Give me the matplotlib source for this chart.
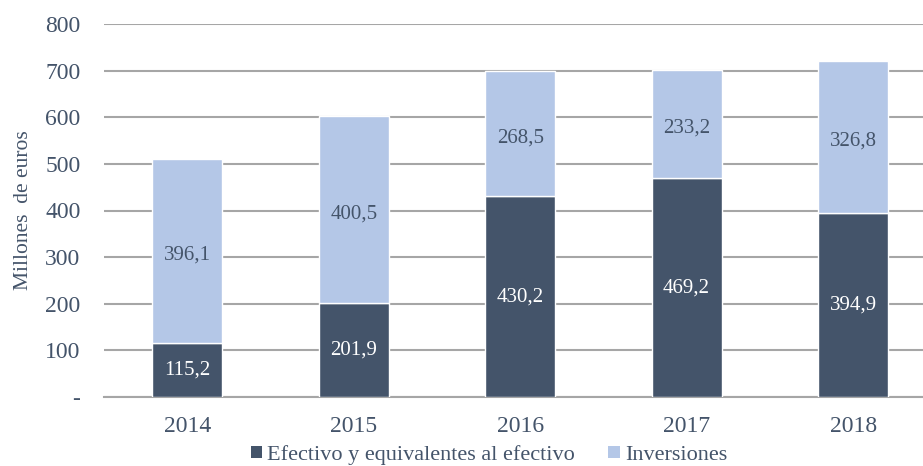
import matplotlib
matplotlib.use("Agg")
import matplotlib.pyplot as plt
from matplotlib.ticker import FixedLocator, FixedFormatter

years = ["2014", "2015", "2016", "2017", "2018"]
efectivo = [115.2, 201.9, 430.2, 469.2, 394.9]
inversiones = [396.1, 400.5, 268.5, 233.2, 326.8]
series_names = ["Efectivo y equivalentes al efectivo", "Inversiones"]
yticks = [0, 100, 200, 300, 400, 500, 600, 700, 800]
ytick_labels = ["-", "100", "200", "300", "400", "500", "600", "700", "800"]

dark = "#44546A"
light = "#B4C7E7"
txt = "#44546A"
grid = "#A6A6A6"

plt.rcParams['font.family'] = ['Liberation Serif', 'DejaVu Serif']

fig = plt.figure(figsize=(9.23, 4.66), dpi=100)
ax = fig.add_axes([104/923, 69/466, 819/923, 373/466])

x = list(range(len(years)))
w = 0.42
b1 = ax.bar(x, efectivo, width=w, color=dark, edgecolor="white", linewidth=1, label=series_names[0], zorder=3)
b2 = ax.bar(x, inversiones, width=w, bottom=efectivo, color=light, edgecolor="white", linewidth=1, label=series_names[1], zorder=3)

def fmt(v):
    return f"{v:.1f}".replace(".", ",")

for i in x:
    ax.text(i, efectivo[i] / 2, fmt(efectivo[i]), ha="center", va="center", color="white", fontsize=15, zorder=4)
    ax.text(i, efectivo[i] + inversiones[i] / 2 - 9, fmt(inversiones[i]), ha="center", va="center", color=txt, fontsize=15, zorder=4)

ax.set_xlim(-0.5, 4.42)
ax.set_ylim(0, 800)
ax.yaxis.set_major_locator(FixedLocator(yticks))
ax.yaxis.set_major_formatter(FixedFormatter(ytick_labels))
ax.set_xticks(x)
ax.set_xticklabels(years)
ax.tick_params(axis="both", length=0, labelsize=17, colors=txt)
ax.tick_params(axis="y", pad=17)
ax.tick_params(axis="x", pad=14)
ax.grid(axis="y", color=grid, linewidth=1.5, zorder=0)
for s in ["top", "right", "left"]:
    ax.spines[s].set_visible(False)
ax.spines["bottom"].set_color(grid)
ax.spines["bottom"].set_linewidth(1.5)

ax.set_ylabel("Millones  de euros", fontsize=15.5, color=txt)
ax.yaxis.set_label_coords(-71/819, 0.5)

leg = fig.legend(handles=[b1, b2], labels=series_names, loc="center", bbox_to_anchor=(489/923, 1 - 455/466),
                 ncol=2, frameon=False, fontsize=16, handlelength=0.5, handleheight=0.5,
                 handletextpad=0.25, columnspacing=1.5, labelcolor=txt, borderpad=0)
for h in leg.legend_handles:
    h.set_edgecolor("none")

fig.savefig("out.png", dpi=100)
